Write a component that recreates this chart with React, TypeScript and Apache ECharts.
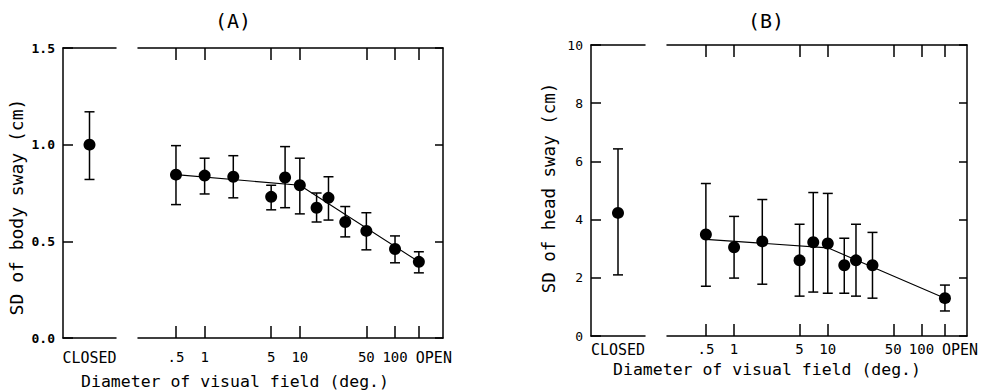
import React, { useEffect, useRef } from 'react';
import * as echarts from 'echarts';

// ---- data ----
const OPEN_DEG = 178; // position at which "OPEN" is plotted on the log diameter axis
const tickDiam: (number | string)[] = [0.5, 1, 5, 10, 50, 100, 'OPEN'];
const tickLabels = ['.5', '1', '5', '10', '50', '100', 'OPEN'];

// Panel A: SD of body sway (cm)
const closedA = { mean: 1.0, lo: 0.82, hi: 1.17 };
const diamA: (number | string)[] = [0.5, 1, 2, 5, 7, 10, 15, 20, 30, 50, 100, 'OPEN'];
const meanA = [0.845, 0.84, 0.834, 0.73, 0.83, 0.79, 0.674, 0.725, 0.6, 0.554, 0.46, 0.394];
const hiA = [0.995, 0.93, 0.943, 0.79, 0.99, 0.93, 0.75, 0.834, 0.68, 0.648, 0.528, 0.446];
const loA = [0.69, 0.745, 0.725, 0.663, 0.674, 0.642, 0.6, 0.61, 0.523, 0.456, 0.389, 0.337];
const fitDiamA: (number | string)[] = [0.5, 10, 'OPEN'];
const fitA = [0.845, 0.79, 0.394];

// Panel B: SD of head sway (cm)
const closedB = { mean: 4.23, lo: 2.1, hi: 6.43 };
const diamB: (number | string)[] = [0.5, 1, 2, 5, 7, 10, 15, 20, 30, 'OPEN'];
const meanB = [3.49, 3.05, 3.25, 2.6, 3.22, 3.18, 2.43, 2.6, 2.43, 1.3];
const hiB = [5.24, 4.11, 4.69, 3.84, 4.93, 4.9, 3.36, 3.84, 3.56, 1.75];
const loB = [1.71, 1.99, 1.78, 1.37, 1.51, 1.47, 1.47, 1.37, 1.3, 0.86];
const fitDiamB: (number | string)[] = [0.5, 10, 'OPEN'];
const fitB = [3.32, 3.03, 1.3];

const MONO = '"DejaVu Sans Mono", "Liberation Mono", monospace';

const toX = (d: number | string) => Math.log10(d === 'OPEN' ? OPEN_DEG : (d as number));

const renderErr = (params: any, api: any) => {
  const x = api.value(0);
  const lo = api.value(1);
  const hi = api.value(2);
  const top = api.coord([x, hi]);
  const bot = api.coord([x, lo]);
  const w = 5;
  const style = { stroke: '#000', lineWidth: 1.5, fill: 'none' };
  return {
    type: 'group',
    children: [
      { type: 'line', shape: { x1: top[0], y1: top[1], x2: bot[0], y2: bot[1] }, style },
      { type: 'line', shape: { x1: top[0] - w, y1: top[1], x2: top[0] + w, y2: top[1] }, style },
      { type: 'line', shape: { x1: bot[0] - w, y1: bot[1], x2: bot[0] + w, y2: bot[1] }, style },
    ],
  };
};

const lineStyle = { color: '#000', width: 1.5 };

function catAxes(gridIndex: number, margin: number) {
  return [
    {
      type: 'category', gridIndex, data: ['CLOSED'], position: 'bottom',
      axisLine: { onZero: false, lineStyle },
      axisTick: { inside: true, alignWithLabel: true, length: 12, lineStyle },
      axisLabel: { color: '#000', fontFamily: MONO, fontSize: 15, margin },
      splitLine: { show: false },
    },
    {
      type: 'category', gridIndex, data: ['CLOSED'], position: 'top',
      axisLine: { onZero: false, lineStyle },
      axisTick: { inside: true, alignWithLabel: true, length: 12, lineStyle },
      axisLabel: { show: false },
      splitLine: { show: false },
    },
  ];
}

function logAxes(gridIndex: number, min: number, max: number, margin: number) {
  const vals = tickDiam.map(toX);
  const fmt = (v: number) => {
    let best = 0;
    vals.forEach((t, i) => { if (Math.abs(t - v) < Math.abs(vals[best] - v)) best = i; });
    const s = tickLabels[best];
    return s === 'OPEN' ? '{open|' + s + '}' : s;
  };
  return [
    {
      type: 'value', gridIndex, min, max, position: 'bottom',
      axisLine: { onZero: false, lineStyle },
      axisTick: { inside: true, length: 12, lineStyle, customValues: vals },
      axisLabel: {
        color: '#000', fontFamily: MONO, fontSize: 14, margin, customValues: vals, formatter: fmt,
        showMaxLabel: true, showMinLabel: true, hideOverlap: false,
        rich: { open: { fontFamily: MONO, fontSize: 15, color: '#000', padding: [0, 0, 0, 30] } },
      },
      splitLine: { show: false },
    },
    {
      type: 'value', gridIndex, min, max, position: 'top',
      axisLine: { onZero: false, lineStyle },
      axisTick: { inside: true, length: 12, lineStyle, customValues: vals },
      axisLabel: { show: false, customValues: vals },
      splitLine: { show: false },
    },
  ];
}

function yAxes(gridLeft: number, gridMain: number, max: number, interval: number, digits: number, bold: boolean) {
  return [
    {
      type: 'value', gridIndex: gridLeft, min: 0, max, interval, position: 'left',
      axisLine: { show: true, onZero: false, lineStyle },
      axisTick: { show: true, inside: true, length: 10, lineStyle },
      axisLabel: { color: '#000', fontFamily: MONO, fontSize: 13, fontWeight: bold ? 'bold' : 'normal', margin: 8, formatter: (v: number) => v.toFixed(digits) },
      splitLine: { show: false },
    },
    {
      type: 'value', gridIndex: gridMain, min: 0, max, interval, position: 'right',
      axisLine: { show: true, onZero: false, lineStyle },
      axisTick: { show: true, inside: true, length: 8, lineStyle },
      axisLabel: { show: false },
      splitLine: { show: false },
    },
  ];
}

function panelSeries(
  xCat: number, xMain: number, yLeft: number, yMain: number,
  closed: { mean: number; lo: number; hi: number },
  diam: (number | string)[], mean: number[], lo: number[], hi: number[],
  fitD: (number | string)[], fit: number[],
) {
  return [
    {
      type: 'custom', xAxisIndex: xCat, yAxisIndex: yLeft, renderItem: renderErr,
      encode: { x: 0, y: [1, 2] }, data: [[0, closed.lo, closed.hi]], z: 2,
    },
    {
      type: 'scatter', xAxisIndex: xCat, yAxisIndex: yLeft, symbolSize: 12,
      itemStyle: { color: '#000', opacity: 1 }, data: [[0, closed.mean]], z: 4,
    },
    {
      type: 'custom', xAxisIndex: xMain, yAxisIndex: yMain, renderItem: renderErr,
      encode: { x: 0, y: [1, 2] }, data: diam.map((d, i) => [toX(d), lo[i], hi[i]]), z: 2,
    },
    {
      type: 'line', xAxisIndex: xMain, yAxisIndex: yMain, showSymbol: false, symbol: 'none',
      lineStyle: { color: '#000', width: 1.1 }, data: fitD.map((d, i) => [toX(d), fit[i]]), z: 3,
    },
    {
      type: 'scatter', xAxisIndex: xMain, yAxisIndex: yMain, symbolSize: 12,
      itemStyle: { color: '#000', opacity: 1 }, data: diam.map((d, i) => [toX(d), mean[i]]), z: 4,
    },
  ];
}

export default function App() {
  const ref = useRef<HTMLDivElement>(null);
  useEffect(() => {
    if (!ref.current) return;
    const chart = echarts.init(ref.current, null, { renderer: 'svg' });
    const text = (t: string, x: number, y: number, size: number, rot = 0) => ({
      type: 'text', x, y, rotation: rot,
      style: { text: t, fill: '#000', font: `${size}px ${MONO}`, textAlign: 'center', textVerticalAlign: 'middle' },
    });
    chart.setOption({
      animation: false,
      backgroundColor: '#fff',
      grid: [
        { left: 63, top: 48, width: 53, height: 290 },
        { left: 138, top: 48, width: 305, height: 290 },
        { left: 591, top: 45, width: 54, height: 291 },
        { left: 667, top: 45, width: 301, height: 291 },
      ],
      xAxis: [
        ...catAxes(0, 12),
        ...logAxes(1, -0.7, 2.504, 12),
        ...catAxes(2, 6),
        ...logAxes(3, -0.716, 2.486, 6),
      ],
      yAxis: [
        ...yAxes(0, 1, 1.5, 0.5, 1, true),
        ...yAxes(2, 3, 10, 2, 0, false),
      ],
      graphic: [
        text('(A)', 233, 21, 20),
        text('(B)', 766, 21, 20),
        text('SD of body sway (cm)', 16, 207, 18, Math.PI / 2),
        text('SD of head sway (cm)', 549, 188, 17.5, Math.PI / 2),
        text('Diameter of visual field (deg.)', 235, 381, 16.5),
        text('Diameter of visual field (deg.)', 767, 369, 16.5),
      ],
      series: [
        ...panelSeries(0, 2, 0, 1, closedA, diamA, meanA, loA, hiA, fitDiamA, fitA),
        ...panelSeries(4, 6, 2, 3, closedB, diamB, meanB, loB, hiB, fitDiamB, fitB),
      ],
    });
    return () => chart.dispose();
  }, []);
  return <div ref={ref} style={{ position: 'absolute', left: 0, top: 0, width: 981, height: 391 }} />;
}
